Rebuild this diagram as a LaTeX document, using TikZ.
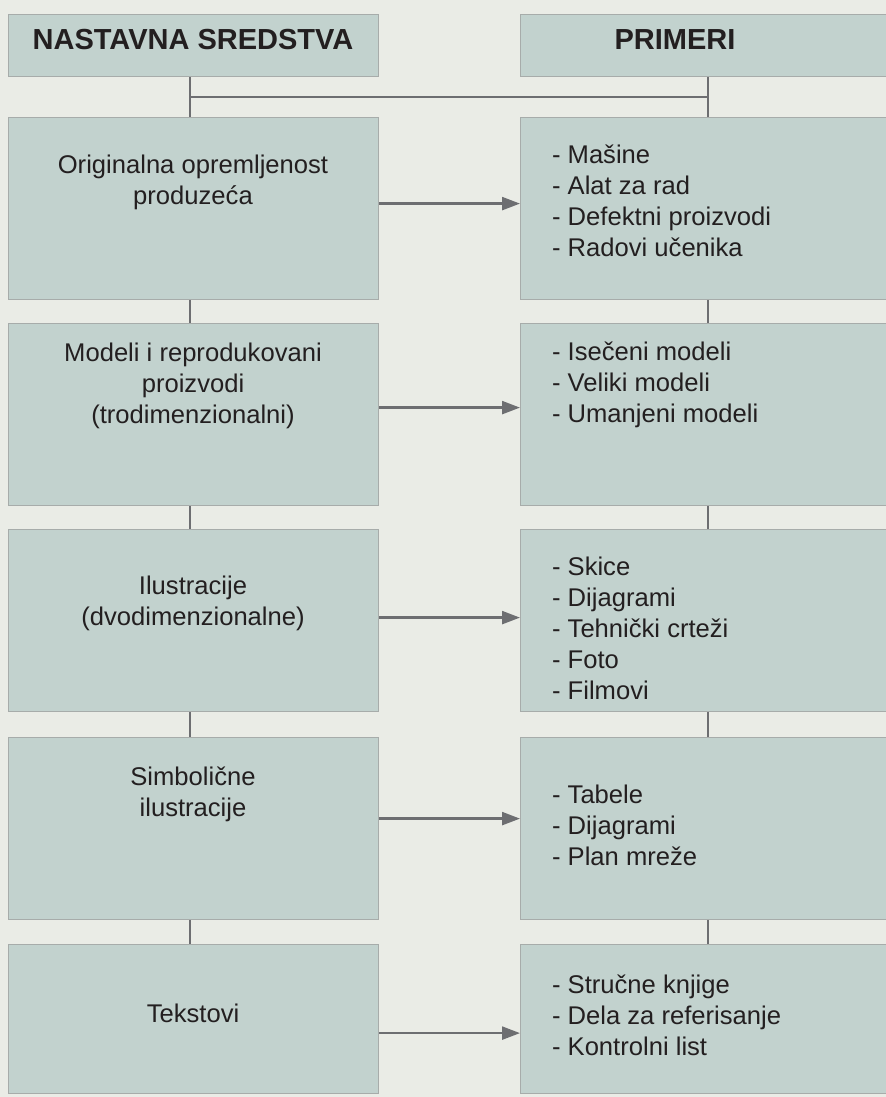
\documentclass[tikz,border=0pt]{standalone}
\usepackage{fontspec}
\setmainfont{Liberation Sans}
\usetikzlibrary{arrows.meta,calc,positioning}
\definecolor{bgpage}{HTML}{EAECE6}
\definecolor{boxfill}{HTML}{C2D2CE}
\definecolor{boxline}{HTML}{A7ACAA}
\definecolor{linkgray}{HTML}{6D6E71}
\definecolor{textdark}{HTML}{231F20}
\tikzset{
  box/.style={draw=boxline, fill=boxfill, line width=0.6pt, inner sep=0pt,
    anchor=north west, minimum width=185pt, minimum height=91pt},
  rbox/.style={box, minimum width=183pt},
  head/.style={font=\fontsize{14.5}{17}\selectfont\bfseries, text=textdark},
  lbl/.style={font=\fontsize{12.8}{15.5}\selectfont, text=textdark, align=center},
  lst/.style={lbl, align=left, anchor=west},
  link/.style={draw=linkgray, line width=1.2pt},
  arr/.style={link, -{Triangle[length=9pt,width=6.5pt]}}
}

\begin{document}
\begin{tikzpicture}[x=0.5pt,y=-0.5pt]
\fill[bgpage] (0,0) rectangle (886,1097);
\useasboundingbox (0,0) rectangle (886,1097);
%headers
\node[box, minimum height=31pt] (hl) at (8,14) {};
\node[rbox, minimum height=31pt] (hr) at (520,14) {};
\node[head] (thl) at (193,40) {NASTAVNA SREDSTVA};
\node[head] (thr) at (675,40) {PRIMERI};
%boxes
\node[box] (l1) at (8,117) {};
\node[rbox] (r1) at (520,117) {};
\node[box] (l2) at (8,323) {};
\node[rbox] (r2) at (520,323) {};
\node[box] (l3) at (8,529) {};
\node[rbox] (r3) at (520,529) {};
\node[box] (l4) at (8,737) {};
\node[rbox] (r4) at (520,737) {};
\node[box, minimum height=74.5pt] (l5) at (8,944) {};
\node[rbox, minimum height=74.5pt] (r5) at (520,944) {};
%texts
\node[lbl] (tl1) at (193,182) {Originalna opremljenost\\produzeća};
\node[lst] (tr1) at (545,201) {- Mašine\\- Alat za rad\\- Defektni proizvodi\\- Radovi učenika};
\node[lbl] (tl2) at (193,386) {Modeli i reprodukovani\\proizvodi\\(trodimenzionalni)};
\node[lst] (tr2) at (545,385) {- Isečeni modeli\\- Veliki modeli\\- Umanjeni modeli};
\node[lbl] (tl3) at (193,603) {Ilustracije\\(dvodimenzionalne)};
\node[lst] (tr3) at (545,628) {- Skice\\- Dijagrami\\- Tehnički crteži\\- Foto\\- Filmovi};
\node[lbl] (tl4) at (193,794) {Simbolične\\ilustracije};
\node[lst] (tr4) at (545,825) {- Tabele\\- Dijagrami\\- Plan mreže};
\node[lbl] (tl5) at (193,1013) {Tekstovi};
\node[lst] (tr5) at (545,1015) {- Stručne knjige\\- Dela za referisanje\\- Kontrolni list};
%connectors
\coordinate (jl) at (190,97);
\coordinate (jr) at (708,97);
\draw[link] (hl.south -| jl) -- (l1.north -| jl);
\draw[link] (jl) -- (jr);
\draw[link] (hr.south -| jr) -- (r1.north -| jr);
\foreach \a/\b in {1/2,2/3,3/4,4/5} {
  \draw[link] (l\a.south -| jl) -- (l\b.north -| jl);
  \draw[link] (r\a.south -| jr) -- (r\b.north -| jr);
}
\draw[arr] ([yshift=2.5pt]l1.east) -- ([yshift=2.5pt]r1.west);
\draw[arr] ([yshift=3.5pt]l2.east) -- ([yshift=3.5pt]r2.west);
\draw[arr] ([yshift=1.5pt]l3.east) -- ([yshift=1.5pt]r3.west);
\draw[arr] ([yshift=5pt]l4.east) -- ([yshift=5pt]r4.west);
\draw[arr] ([yshift=-7pt]l5.east) -- ([yshift=-7pt]r5.west);
\end{tikzpicture}
\end{document}
